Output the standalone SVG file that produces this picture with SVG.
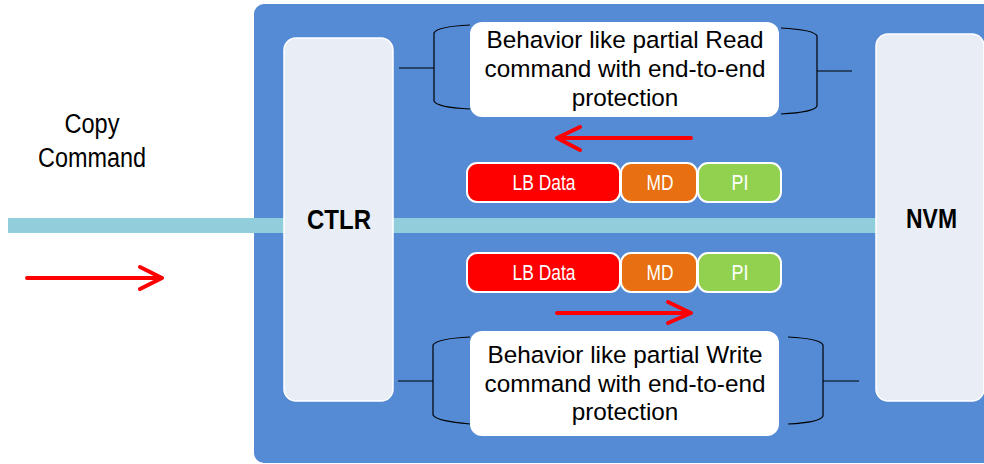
<svg xmlns="http://www.w3.org/2000/svg" width="984" height="464" viewBox="0 0 984 464">
<defs>
<style>
.bg{fill:#558bd5}
.blk{fill:#e9edf5;stroke:#ffffff;stroke-width:1.5}
.bar{fill:#92cddc}
.note{fill:#ffffff}
.brace{fill:none;stroke:#000000;stroke-width:1.2}
.arrow{fill:none;stroke:#ff0000;stroke-width:4;stroke-linecap:round;stroke-linejoin:round}
.seg{stroke:#ffffff;stroke-width:2}
.lb{fill:#ff0000}
.md{fill:#e87010}
.pi{fill:#92d050}
.t{font-family:"Liberation Sans",Arial,sans-serif;text-anchor:middle}
.body{font-size:24.3px;fill:#000000}
.segt{font-size:22px;fill:#ffffff}
.big{font-size:28px;font-weight:bold;fill:#000000}
.lab{font-size:27px;fill:#000000}
</style>
</defs>
<rect class="bg" x="254" y="4" width="750" height="459" rx="10"/>
<g id="connectors">
<rect class="bar" x="8" y="218" width="278" height="15"/>
<rect class="bar" x="393" y="218" width="483" height="15"/>
<path class="brace" d="M470,25 C450,26 436,28 434,33 L434,101 C436,106 450,108 470,109 M399,68 H434"/>
<path class="brace" d="M781,28 C800,29 815,31 817,36 L817,106 C815,111 800,113 781,114 M817,71 H852"/>
<path class="brace" d="M470,337 C450,338 436,340 433,345 L433,415 C436,420 450,422 470,424 M398,381 H433"/>
<path class="brace" d="M788,337 C808,338 821,340 823,345 L823,416 C821,421 808,423 788,424 M823,381 H859"/>
<path class="arrow" d="M691,138 H557 M580,127 L557,138 L580,150"/>
<path class="arrow" d="M557,313 H691 M668,302 L691,313 L668,323"/>
<path class="arrow" d="M27,278 H162 M140,267 L162,278 L140,289"/>
</g>
<g id="copy-label">
<text class="t lab" x="92" y="133" textLength="55" lengthAdjust="spacingAndGlyphs">Copy</text>
<text class="t lab" x="92" y="167" textLength="108" lengthAdjust="spacingAndGlyphs">Command</text>
</g>
<g id="ctlr">
<rect class="blk" x="284" y="38" width="109" height="363" rx="12"/>
<text class="t big" x="339" y="229" textLength="64" lengthAdjust="spacingAndGlyphs">CTLR</text>
</g>
<g id="nvm">
<rect class="blk" x="876" y="34" width="108" height="367" rx="12"/>
<text class="t big" x="931.5" y="228" textLength="51" lengthAdjust="spacingAndGlyphs">NVM</text>
</g>
<g id="read-note">
<rect class="note" x="470" y="22" width="309" height="95" rx="12"/>
<text class="t body" x="625" y="48">Behavior like partial Read</text>
<text class="t body" x="625" y="77">command with end-to-end</text>
<text class="t body" x="625" y="106">protection</text>
</g>
<g id="write-note">
<rect class="note" x="470" y="331" width="309" height="105" rx="12"/>
<text class="t body" x="625" y="363">Behavior like partial Write</text>
<text class="t body" x="625" y="392">command with end-to-end</text>
<text class="t body" x="625" y="420">protection</text>
</g>
<g id="upper-lb-data">
<rect class="seg lb" x="467" y="163" width="153" height="39" rx="10"/>
<text class="t segt" x="544" y="190" textLength="63" lengthAdjust="spacingAndGlyphs">LB Data</text>
</g>
<g id="upper-md">
<rect class="seg md" x="621" y="163" width="76" height="39" rx="10"/>
<text class="t segt" x="660" y="190" textLength="27" lengthAdjust="spacingAndGlyphs">MD</text>
</g>
<g id="upper-pi">
<rect class="seg pi" x="698" y="163" width="83" height="39" rx="10"/>
<text class="t segt" x="740" y="190" textLength="17" lengthAdjust="spacingAndGlyphs">PI</text>
</g>
<g id="lower-lb-data">
<rect class="seg lb" x="467" y="253" width="153" height="39" rx="10"/>
<text class="t segt" x="544" y="280" textLength="63" lengthAdjust="spacingAndGlyphs">LB Data</text>
</g>
<g id="lower-md">
<rect class="seg md" x="621" y="253" width="76" height="39" rx="10"/>
<text class="t segt" x="660" y="280" textLength="27" lengthAdjust="spacingAndGlyphs">MD</text>
</g>
<g id="lower-pi">
<rect class="seg pi" x="698" y="253" width="83" height="39" rx="10"/>
<text class="t segt" x="740" y="280" textLength="17" lengthAdjust="spacingAndGlyphs">PI</text>
</g>
</svg>
